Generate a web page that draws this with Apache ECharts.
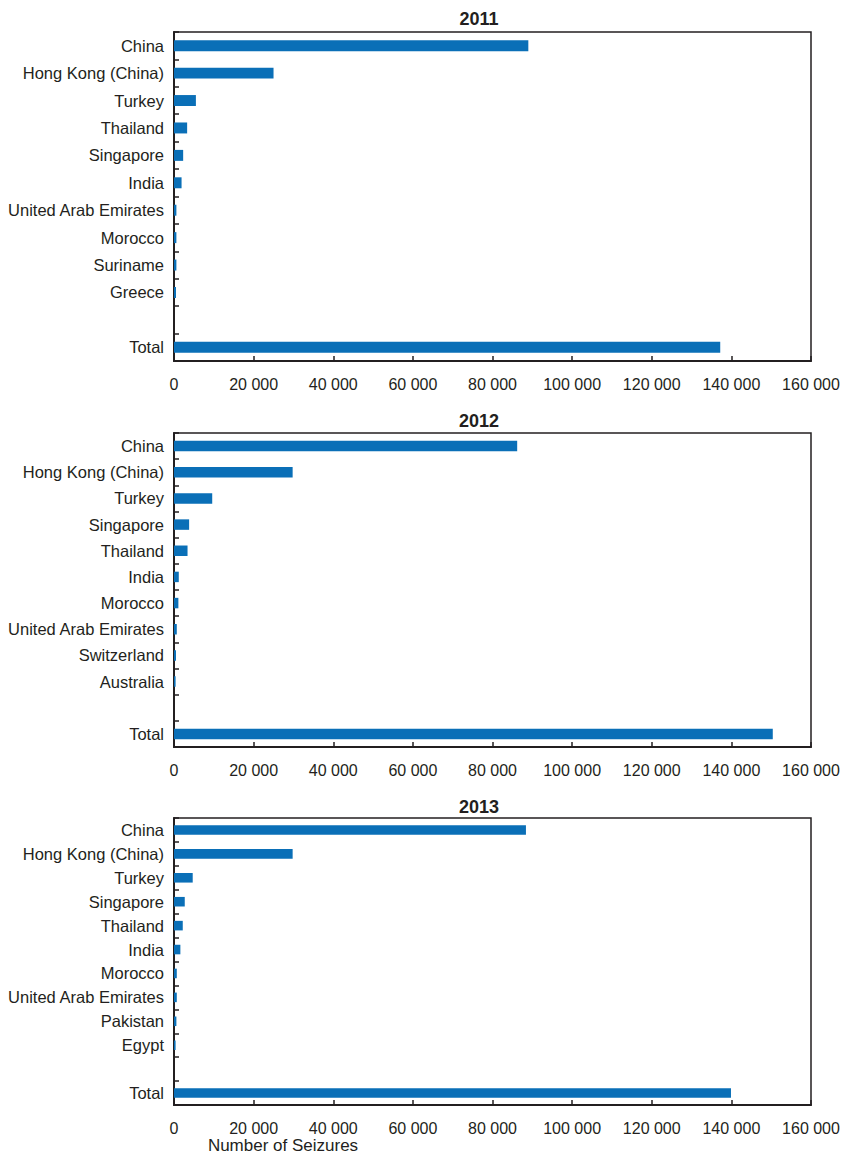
<!DOCTYPE html>
<html>
<head>
<meta charset="utf-8">
<script src="https://cdn.jsdelivr.net/npm/echarts@6/dist/echarts.min.js"></script>
<style>
html,body{margin:0;padding:0;background:#fff;}
#chart{width:845px;height:1160px;}
</style>
</head>
<body>
<div id="chart"></div>
<script>
// ---- data ----
const years = ['2011', '2012', '2013'];
const categories2011 = ['China','Hong Kong (China)','Turkey','Thailand','Singapore','India','United Arab Emirates','Morocco','Suriname','Greece','','Total'];
const values2011 = [89000, 25000, 5500, 3300, 2300, 1900, 600, 600, 600, 500, null, 137200];
const categories2012 = ['China','Hong Kong (China)','Turkey','Singapore','Thailand','India','Morocco','United Arab Emirates','Switzerland','Australia','','Total'];
const values2012 = [86200, 29800, 9600, 3800, 3400, 1200, 1100, 700, 500, 400, null, 150400];
const categories2013 = ['China','Hong Kong (China)','Turkey','Singapore','Thailand','India','Morocco','United Arab Emirates','Pakistan','Egypt','','Total'];
const values2013 = [88400, 29800, 4700, 2700, 2200, 1600, 700, 700, 600, 400, null, 139900];
const xTickLabels = ['0','20 000','40 000','60 000','80 000','100 000','120 000','140 000','160 000'];
const xAxisTitle = 'Number of Seizures';

const allCats = [categories2011, categories2012, categories2013];
const allVals = [values2011, values2012, values2013];

// ---- layout ----
const FONT = "'Liberation Sans', Arial, sans-serif";
const INK = '#231f20';
const BAR = '#0a6fb7';
const grids = [
  {left: 174, right: 34, top: 32, height: 329},
  {left: 174, right: 34, top: 433, height: 314},
  {left: 174, right: 34, top: 818, height: 287}
];
const titleTops = [5, 407, 793];

const option = {
  animation: false,
  backgroundColor: '#fff',
  title: years.map((y, i) => ({
    text: y,
    left: 474, top: titleTops[i],
    textAlign: 'center',
    textStyle: {fontFamily: FONT, fontSize: 18, fontWeight: 'bold', color: INK}
  })).concat([{
    text: xAxisTitle,
    left: 278, top: 1132,
    textAlign: 'center',
    textStyle: {fontFamily: FONT, fontSize: 17, fontWeight: 'normal', color: INK}
  }]),
  grid: grids.map(g => Object.assign({
    show: true, borderColor: INK, borderWidth: 1.5, backgroundColor: 'transparent', containLabel: false
  }, g)),
  xAxis: grids.map((g, i) => ({
    type: 'value', gridIndex: i, min: 0, max: 160000, interval: 20000,
    axisLine: {show: true, lineStyle: {color: INK, width: 2}},
    axisTick: {show: true, inside: true, length: 5, lineStyle: {color: INK, width: 1.5}},
    splitLine: {show: false},
    axisLabel: {
      fontFamily: FONT, fontSize: 16, color: INK, margin: 15,
      formatter: v => xTickLabels[Math.round(v / 20000)]
    }
  })),
  yAxis: grids.map((g, i) => ({
    type: 'category', gridIndex: i, data: allCats[i], inverse: true,
    axisLine: {show: true, lineStyle: {color: INK, width: 2}},
    axisTick: {show: true, inside: true, length: 5, lineStyle: {color: INK, width: 1.5}},
    axisLabel: {fontFamily: FONT, fontSize: 16.5, color: INK, margin: 10}
  })),
  series: allVals.map((vals, i) => ({
    type: 'bar', xAxisIndex: i, yAxisIndex: i, data: vals,
    barWidth: '40%',
    itemStyle: {color: BAR}
  }))
};

const chart = echarts.init(document.getElementById('chart'), null, {renderer: 'svg'});
chart.setOption(option);
</script>
</body>
</html>
